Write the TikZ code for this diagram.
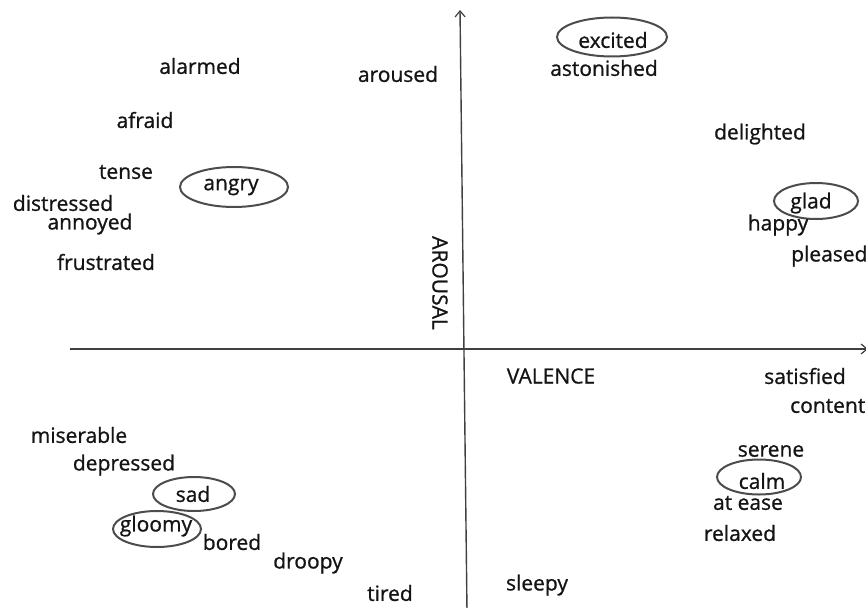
\documentclass[tikz,border=0pt]{standalone}
\usepackage{fontspec}
\setmainfont{Open Sans}[FakeBold=0.9]
\usetikzlibrary{shapes.geometric,arrows.meta}
\begin{document}
\begin{tikzpicture}[x=1pt,y=-1pt,
  word/.style={inner sep=0pt,font=\fontsize{21}{23}\selectfont,text=black!92},
  ring/.style={ellipse,draw=black!70,line width=2pt,inner sep=0pt},
  axis/.style={draw=black!75,line width=1.4pt,-{Straight Barb[length=6pt,width=10pt,line width=1.2pt]}}]
\useasboundingbox (0,0) rectangle (866,607);
\clip (0,0) rectangle (866,607);
% axes
\coordinate (vbot) at (467,612);
\coordinate (vtop) at (460,10);
\coordinate (hleft) at (70,349);
\coordinate (hright) at (868,349);
\draw[axis] (vbot) -- (vtop);
\draw[axis] (hleft) -- (hright);
% rings
\node[ring,minimum width=110pt,minimum height=39pt] (rexcited) at (612,37) {};
\node[ring,minimum width=108pt,minimum height=40pt] (rangry) at (234,187) {};
\node[ring,minimum width=84pt,minimum height=36pt] (rglad) at (816,201) {};
\node[ring,minimum width=82pt,minimum height=34pt] (rsad) at (194,494) {};
\node[ring,minimum width=84pt,minimum height=35pt] (rcalm) at (759,477) {};
\node[ring,minimum width=88pt,minimum height=36pt] (rgloomy) at (157,529) {};
% words
\node[word] (alarmed) at (200,66) {alarmed};
\node[word] (aroused) at (398,74) {aroused};
\node[word] (excited) at (613,40) {excited};
\node[word] (astonished) at (604,68) {astonished};
\node[word] (afraid) at (145,120) {afraid};
\node[word] (delighted) at (760,134) {delighted};
\node[word] (tense) at (126,172) {tense};
\node[word] (angry) at (231,187) {angry};
\node[word] (distressed) at (63,203) {distressed};
\node[word] (annoyed) at (90,224) {annoyed};
\node[word] (glad) at (811,203) {glad};
\node[word] (happy) at (778,225) {happy};
\node[word,anchor=west] (pleased) at (791,256) {pleased};
\node[word] (frustrated) at (106,262) {frustrated};
\node[word,rotate=-90] (arousal) at (440,283) {AROUSAL};
\node[word] (valence) at (551,376) {VALENCE};
\node[word] (satisfied) at (805,376) {satisfied};
\node[word,anchor=west] (content) at (790,406) {content};
\node[word] (miserable) at (79,435) {miserable};
\node[word] (depressed) at (124,465) {depressed};
\node[word] (serene) at (771,451) {serene};
\node[word] (sad) at (193,494) {sad};
\node[word] (calm) at (762,481) {calm};
\node[word] (atease) at (748,503) {at ease};
\node[word] (gloomy) at (156,526) {gloomy};
\node[word] (bored) at (232,542) {bored};
\node[word] (relaxed) at (740,533) {relaxed};
\node[word] (droopy) at (308,563) {droopy};
\node[word] (tired) at (390,593) {tired};
\node[word] (sleepy) at (537,585) {sleepy};
\end{tikzpicture}
\end{document}
